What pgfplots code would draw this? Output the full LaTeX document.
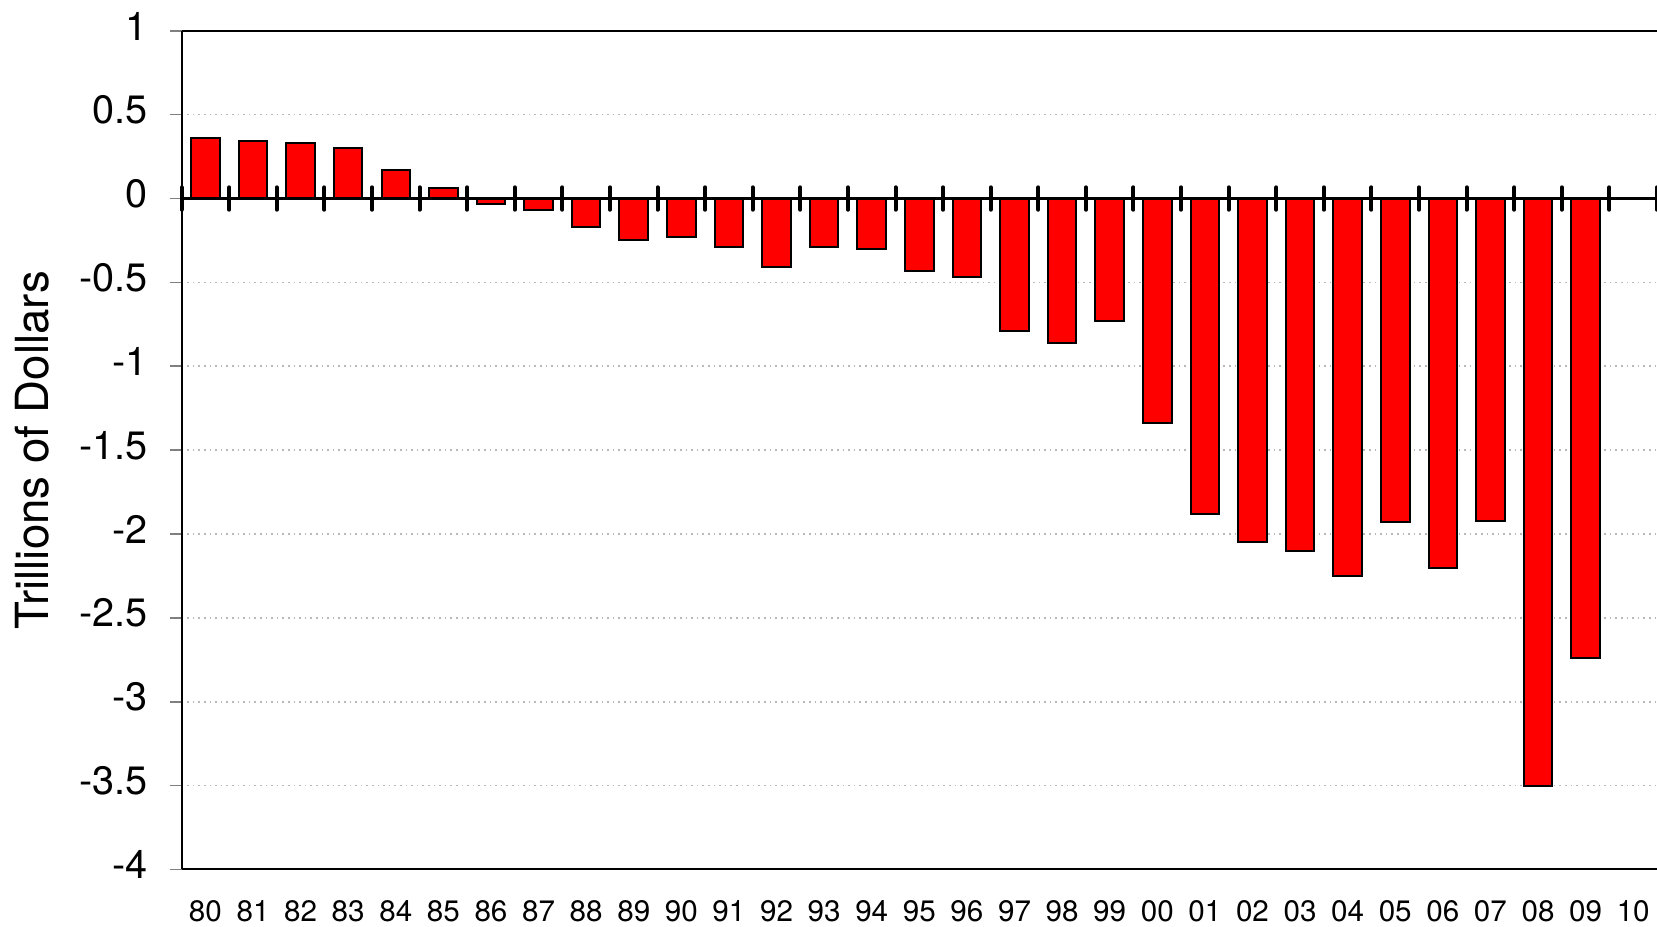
\documentclass[border=0pt]{standalone}
\usepackage{fontspec}
\setmainfont{TeX Gyre Heros}
\usepackage{pgfplots}
\usepackage{pgfplotstable}
\pgfplotsset{compat=1.18}

% year index (80 = 0 ... 10 = 30), balance in trillions
\pgfplotstableread{
x y
0 0.36
1 0.34
2 0.33
3 0.30
4 0.17
5 0.06
6 -0.03
7 -0.07
8 -0.17
9 -0.25
10 -0.23
11 -0.29
12 -0.41
13 -0.29
14 -0.30
15 -0.43
16 -0.47
17 -0.79
18 -0.86
19 -0.73
20 -1.34
21 -1.88
22 -2.05
23 -2.10
24 -2.25
25 -1.93
26 -2.20
27 -1.92
28 -3.50
29 -2.74
}\balance

\begin{document}
\begin{tikzpicture}
\begin{axis}[
    name=main,
    scale only axis,
    width=368.8pt, height=209.65pt,
    xmin=-0.5, xmax=30.5,
    ymin=-4, ymax=1,
    axis x line=box, axis y line=left,
    axis line style={-, black, line width=0.5pt},
    xtick={0,...,30},
    xticklabels={80,81,82,83,84,85,86,87,88,89,90,91,92,93,94,95,96,97,98,99,00,01,02,03,04,05,06,07,08,09,10},
    xtick style={draw=none},
    xticklabel style={anchor=center, yshift=-7.4pt, font=\fontsize{7.4}{9}\selectfont},
    ytick={-4,-3.5,...,1},
    tick align=inside,
    major tick length=3pt,
    ytick style={gray, line width=0.4pt, xshift=-3pt},
    yticklabel style={anchor=east, inner sep=0pt, xshift=-8.2pt, yshift=1.2pt, font=\fontsize{9.9}{12}\selectfont},
    /pgf/number format/assume math mode=true,
    ymajorgrids,
    major grid style={draw=black!28, line width=0.4pt, dash pattern=on 0.4pt off 1pt},
    ylabel={Trillions of Dollars},
    ylabel style={at={(axis description cs:-0.1014,0.5)}, anchor=center, font=\fontsize{11.4}{13}\selectfont},
    ybar, bar width=0.6,
]
\addplot[fill=red, draw=black, line width=0.5pt] table[x=x, y=y] {\balance};
\end{axis}
\begin{axis}[
    scale only axis,
    width=368.8pt, height=209.65pt,
    xmin=-0.5, xmax=30.5,
    ymin=-4, ymax=1,
    axis x line=middle, axis y line=none,
    axis line style={-, black, line width=0.9pt},
    xtick={-0.5,0.5,...,30.5},
    xticklabels={},
    ytick=\empty,
    tick align=center,
    major tick length=5.6pt,
    xtick style={black, line width=1pt, line cap=round},
]
\end{axis}
\pgfresetboundingbox
\useasboundingbox ([shift={(-45.4pt,-14.2pt)}]main.south west) rectangle ([shift={(0pt,7.7pt)}]main.north east);
\end{tikzpicture}
\end{document}
